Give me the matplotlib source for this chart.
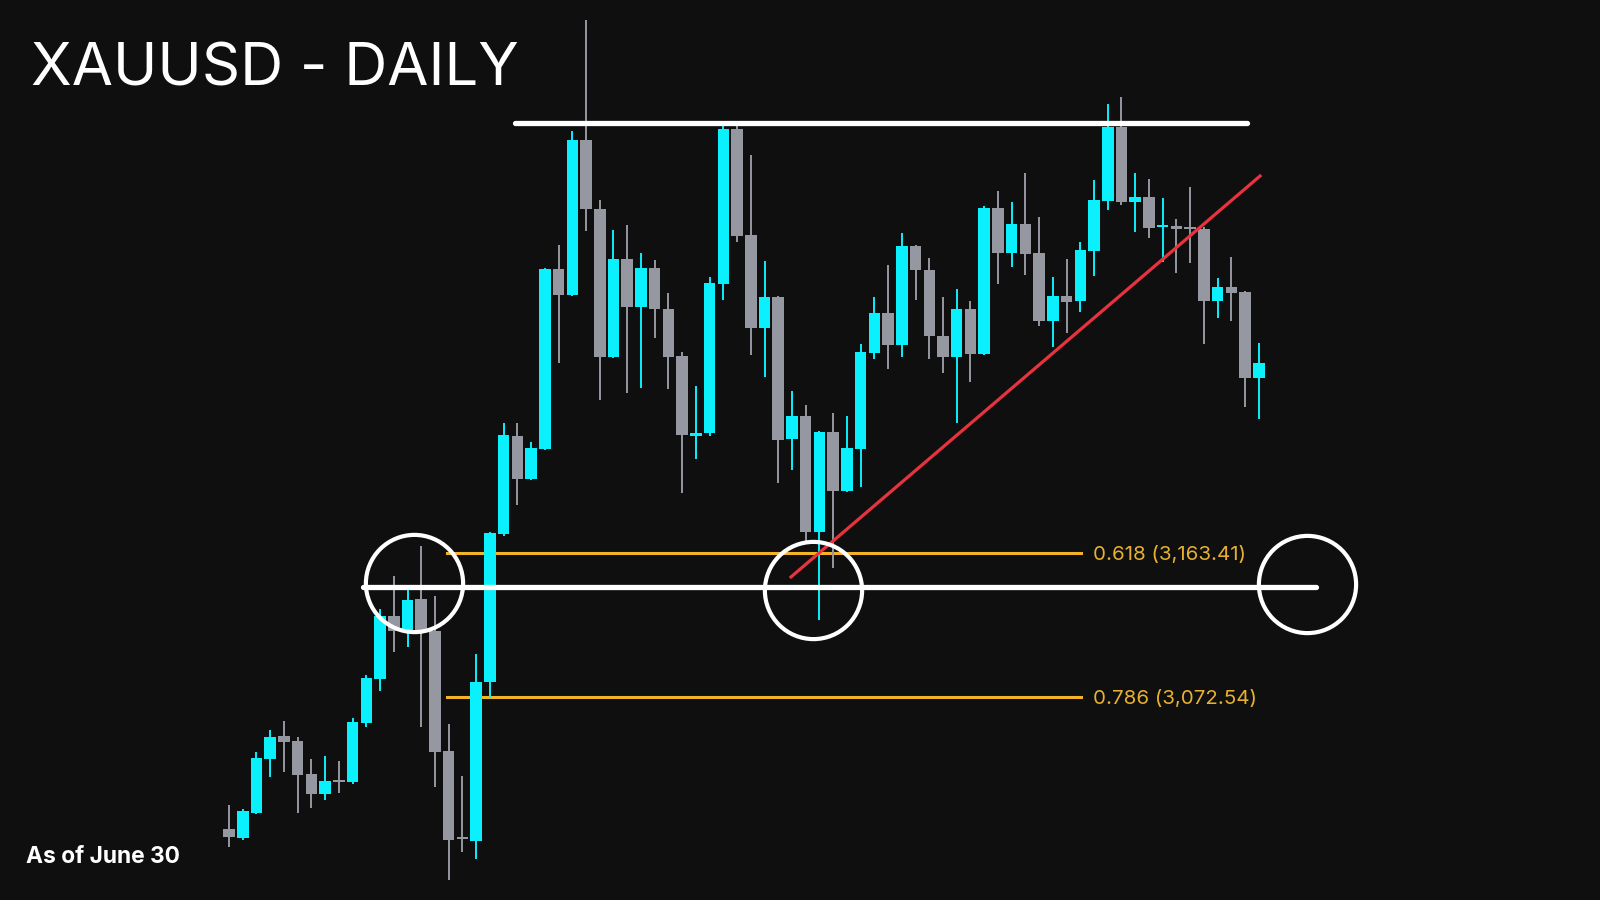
import matplotlib
matplotlib.use("Agg")
import matplotlib.pyplot as plt

# velas diarias XAUUSD
opens = [2989.3, 2983.6, 2999.4, 3033.5, 3048.0, 3044.8, 3024.0, 3011.4, 3020.0, 3019.0,
         3056.2, 3084.0, 3123.7, 3114.2, 3134.4, 3114.2, 3038.5, 2983.4, 2981.7, 3082.1,
         3175.4, 3237.3, 3210.2, 3229.1, 3342.7, 3326.3, 3424.1, 3380.5, 3287.1, 3349.0,
         3318.7, 3343.3, 3317.4, 3287.8, 3237.3, 3239.2, 3333.2, 3431.0, 3364.1, 3305.4,
         3325.0, 3235.4, 3249.9, 3176.7, 3239.8, 3202.6, 3229.1, 3289.7, 3314.9, 3294.7,
         3357.2, 3342.0, 3300.4, 3287.1, 3317.4, 3289.0, 3381.2, 3352.8, 3371.1, 3352.8,
         3309.8, 3325.6, 3322.5, 3354.0, 3385.6, 3432.3, 3384.9, 3388.1, 3368.9, 3369.8,
         3369.2, 3367.9, 3322.5, 3331.3, 3328.1, 3273.9]
highs = [3004.4, 3001.9, 3037.9, 3051.8, 3057.4, 3047.4, 3033.5, 3035.4, 3032.2, 3059.3,
         3086.5, 3128.1, 3148.9, 3143.3, 3167.9, 3136.3, 3055.6, 3022.7, 3099.7, 3176.7,
         3245.5, 3245.5, 3233.5, 3343.3, 3357.8, 3429.7, 3499.8, 3386.2, 3367.3, 3370.4,
         3352.8, 3348.3, 3327.5, 3290.3, 3268.8, 3337.6, 3434.8, 3433.5, 3414.6, 3347.7,
         3325.6, 3265.7, 3256.8, 3240.4, 3251.8, 3249.9, 3295.3, 3325.0, 3345.2, 3365.4,
         3357.8, 3349.6, 3325.0, 3330.0, 3322.5, 3382.4, 3391.9, 3384.9, 3403.2, 3375.5,
         3337.6, 3349.0, 3359.7, 3398.8, 3446.8, 3451.2, 3403.2, 3399.5, 3387.5, 3374.2,
         3394.4, 3369.2, 3337.0, 3350.2, 3328.7, 3296.0]
lows = [2977.9, 2982.4, 2998.5, 3022.1, 3025.3, 2999.4, 3002.6, 3007.6, 3012.0, 3017.7,
        3053.7, 3076.4, 3101.0, 3104.1, 3053.7, 3015.8, 2957.1, 2974.8, 2970.4, 3072.0,
        3174.2, 3193.7, 3209.5, 3228.5, 3283.3, 3325.7, 3366.6, 3260.0, 3286.5, 3264.4,
        3267.6, 3299.1, 3266.9, 3201.3, 3222.8, 3237.3, 3323.1, 3359.7, 3288.4, 3274.5,
        3207.6, 3215.8, 3169.1, 3121.2, 3154.0, 3202.0, 3205.1, 3285.9, 3279.6, 3287.1,
        3323.1, 3285.9, 3277.0, 3245.5, 3271.4, 3288.4, 3333.2, 3343.9, 3338.9, 3306.7,
        3293.4, 3302.3, 3315.5, 3338.2, 3379.9, 3383.0, 3366.0, 3362.2, 3347.1, 3340.1,
        3346.4, 3295.3, 3311.7, 3309.8, 3255.6, 3248.0]
closes = [2984.3, 3000.7, 3034.1, 3047.4, 3044.2, 3023.4, 3011.4, 3019.6, 3019.2, 3056.8,
          3084.6, 3123.7, 3114.2, 3133.8, 3114.2, 3037.9, 2982.4, 2982.8, 3082.1, 3176.1,
          3237.9, 3210.2, 3229.7, 3342.7, 3326.3, 3424.1, 3380.5, 3287.1, 3349.0, 3318.7,
          3343.3, 3317.4, 3287.1, 3237.9, 3239.2, 3333.8, 3431.0, 3363.5, 3305.4, 3325.0,
          3234.8, 3249.9, 3176.7, 3239.8, 3202.6, 3229.7, 3290.3, 3314.9, 3294.7, 3357.2,
          3342.0, 3300.4, 3287.1, 3317.4, 3289.0, 3381.2, 3352.8, 3371.1, 3352.1, 3309.8,
          3325.6, 3321.8, 3354.6, 3386.2, 3432.3, 3384.9, 3388.1, 3368.5, 3370.1, 3367.9,
          3367.9, 3322.5, 3331.3, 3327.5, 3273.9, 3283.3]

# niveles dibujados
resistance = 3434.8
support = 3142.2
fib_levels = [3163.41, 3072.54]
fib_labels = ["0.618 (3,163.41)", "0.786 (3,072.54)"]
trend_x = [40.93, 75.09]
trend_y = [3148.3, 3401.3]
circle_x = [13.5, 42.5, 78.5]
circle_y = [3144.5, 3140.1, 3143.9]

BG = "#0f0f0f"
UP = "#0af0fc"
DOWN = "#9598a1"

fig = plt.figure(figsize=(16, 9), dpi=100, facecolor=BG)
ax = fig.add_axes([0, 0, 1, 1])
ax.set_facecolor(BG)
ax.set_xlim(-16.68, 99.85)
ax.set_ylim(2944.44, 3512.37)
ax.axis("off")

for i in range(len(opens)):
    o, h, l, c = opens[i], highs[i], lows[i], closes[i]
    col = UP if c > o else DOWN
    ax.vlines(i, l, h, color=col, lw=1.4, zorder=2)
    body = max(abs(c - o), 1.2)
    ax.bar(i, body, bottom=min(o, c), width=0.84, color=col, zorder=3)

# resistencia y soporte
ax.plot([20.83, 74.14], [resistance, resistance], color="white", lw=3.8,
        solid_capstyle="round", zorder=5)
ax.plot([9.76, 79.17], [support, support], color="white", lw=3.8,
        solid_capstyle="round", zorder=5)

# fibonacci
for lvl, lab in zip(fib_levels, fib_labels):
    ax.plot([15.88, 62.05], [lvl, lvl], color="#f2b326", lw=2.2, zorder=1)
    ax.text(62.93, lvl, lab, color="#e8b030", fontsize=14.8, family="Inter",
            va="center_baseline", ha="left")

# línea de tendencia
ax.plot(trend_x, trend_y, color="#e8333f", lw=2.3, zorder=4)

# círculos
ax.plot(circle_x, circle_y, "o", ms=70, mfc="none", mec="white", mew=3, zorder=6)

fig.text(0.0194, 1 - 86 / 900, "XAUUSD - DAILY", color="white", fontsize=43,
         family="Inter", fontweight="normal", va="baseline", ha="left")
fig.text(0.0163, 1 - 863 / 900, "As of June 30", color="white", fontsize=16.4,
         family="Inter", fontweight="bold", va="baseline", ha="left")

fig.savefig("out.png", dpi=100, facecolor=BG)
